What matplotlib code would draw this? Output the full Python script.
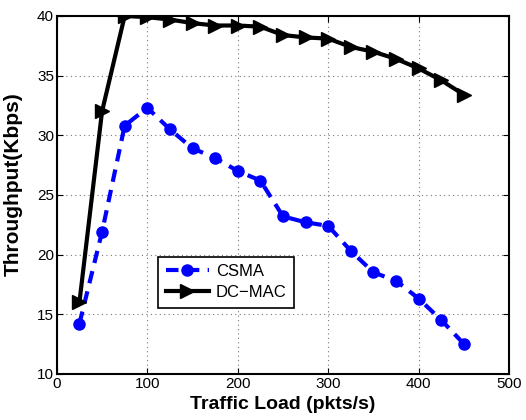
import matplotlib
matplotlib.use('Agg')
import matplotlib.pyplot as plt

plt.rcParams['font.family'] = ['Liberation Sans', 'DejaVu Sans']

load = [25, 50, 75, 100, 125, 150, 175, 200, 225, 250, 275, 300, 325, 350, 375, 400, 425, 450]
csma = [14.2, 21.9, 30.8, 32.3, 30.5, 28.9, 28.1, 27.0, 26.2, 23.2, 22.7, 22.4, 20.3, 18.5, 17.8, 16.3, 14.5, 12.5]
dcmac = [16.0, 32.0, 40.0, 39.9, 39.7, 39.4, 39.2, 39.2, 39.1, 38.4, 38.2, 38.1, 37.4, 37.0, 36.4, 35.6, 34.6, 33.4]

fig = plt.figure(figsize=(5.26, 4.2), dpi=100)
ax = fig.add_axes([0.108, 0.110, 0.860, 0.852])

ax.plot(load, csma, color='blue', linestyle='--', linewidth=3, dashes=(3, 2),
        marker='o', markersize=8, label='CSMA')
ax.plot(load, dcmac, color='black', linestyle='-', linewidth=3,
        marker='>', markersize=10, label='DC\u2212MAC')

ax.set_xlim(0, 500)
ax.set_ylim(10, 40)
ax.set_xticks(range(0, 501, 100))
ax.set_yticks(range(10, 41, 5))
ax.grid(True, linestyle=(0, (1, 3)), color='#777777', linewidth=0.8)
ax.tick_params(direction='in', labelsize=11, length=4, top=True, right=True, pad=2)
for s in ax.spines.values():
    s.set_linewidth(1.5)

ax.set_xlabel('Traffic Load (pkts/s)', fontsize=14, fontweight='bold', labelpad=4)
ax.set_ylabel('Throughput(Kbps)', fontsize=15, fontweight='bold')
ax.yaxis.set_label_coords(-0.075, 0.53)

leg = ax.legend(loc='upper left', bbox_to_anchor=(0.224, 0.327), fontsize=12,
                fancybox=False, edgecolor='black', framealpha=1,
                handlelength=2.6, handletextpad=0.4, borderpad=0.45,
                labelspacing=0.35, borderaxespad=0)
leg.get_frame().set_linewidth(1.2)

fig.savefig('out.png', dpi=100)
